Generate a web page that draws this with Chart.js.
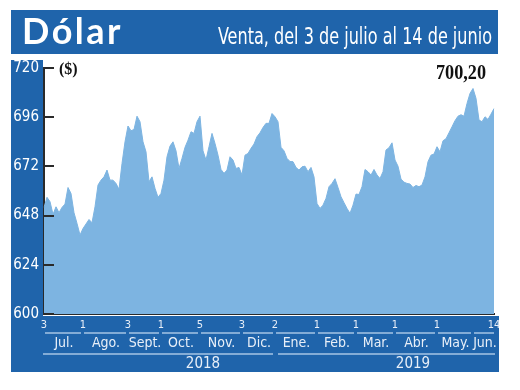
<!DOCTYPE html>
<html>
<head>
<meta charset="utf-8">
<script src="https://cdn.jsdelivr.net/npm/chart.js@4.4.1/dist/chart.umd.min.js"></script>
<style>
html, body { margin:0; padding:0; background:#fff; }
canvas { display:block; }
</style>
</head>
<body>
<canvas id="dolar-chart" width="520" height="390"></canvas>
<script>
/* ── DATA ───────────────────────────────────────────────── */

var DOLAR_VALUES = [
    652.0, 656.9, 654.8, 648.6, 652.3, 649.4, 652.0, 653.6, 661.7, 658.8, 649.4, 644.2, 638.5,
    641.7, 643.9, 646.1, 644.5, 652.3, 662.9, 665.3, 666.9, 670.2, 665.3, 665.3, 663.7,
    660.8, 673.4, 684.0, 691.7, 689.4, 690.0, 696.5, 693.8, 684.0, 679.1, 664.5, 666.9, 661.3,
    656.9, 658.8, 665.3, 676.7, 681.9, 684.0, 679.6, 671.0, 675.9, 681.3, 684.8, 688.9,
    688.1, 693.8, 696.5, 679.6, 675.1, 681.6, 688.1, 683.2, 677.5, 670.5, 668.6, 670.2, 676.7,
    675.1, 671.0, 671.5, 667.8, 677.5, 678.3, 680.8, 682.9, 686.5, 688.4, 691.0, 693.0,
    693.0, 697.8, 696.2, 693.8, 681.3, 679.6, 675.9, 674.4, 674.3, 671.5, 670.2, 671.8, 672.1,
    669.4, 671.5, 666.9, 653.9, 651.5, 653.1, 656.4, 662.1, 663.7, 666.0, 661.7, 657.2,
    654.3, 651.5, 649.1, 653.1, 658.5, 658.3, 662.1, 670.5, 669.4, 667.8, 670.5, 667.8, 666.1,
    669.4, 680.0, 681.1, 683.5, 675.1, 672.1, 665.8, 664.3, 663.7, 663.4, 661.7, 662.7,
    662.1, 662.9, 666.9, 674.3, 677.5, 678.0, 681.6, 679.1, 684.5, 685.5, 688.4, 691.3, 694.3,
    696.5, 697.2, 696.5, 702.7, 707.6, 710.0, 705.2, 694.6, 693.8, 696.2, 694.9, 697.5, 700.2
];
var DOLAR_LABELS = DOLAR_VALUES.map(function(v, i) { return i; });

var DAY_TICK_INDEX = [0, 13, 28, 39, 52, 66, 77, 91, 104, 117, 131, 150];
var DAY_TICK_TEXT  = ['3', '1', '3', '1', '5', '3', '2', '1', '1', '1', '1', '14'];

var MONTH_NAMES = ['Jul.', 'Ago.', 'Sept.', 'Oct.', 'Nov.', 'Dic.', 'Ene.', 'Feb.', 'Mar.', 'Abr.', 'May.', 'Jun.'];
var MONTH_START = [0, 13, 28, 39, 52, 66, 77, 91, 104, 117, 131, 143, 150];

var YEAR_NAMES = ['2018', '2019'];
var YEAR_START = [0, 77, 150];

var Y_MIN = 600, Y_MAX = 720, Y_STEP = 24;
var LAST_VALUE_TEXT = '700,20';

/* ── STYLE ──────────────────────────────────────────────── */

var BLUE      = '#1f64ab';
var FILL      = '#7db4e1';
var LIGHT     = '#e8eff8';
var RULE      = '#a6c4e4';
var AXIS      = '#2a2a2a';
var NARROW    = '"Liberation Sans Narrow", "DejaVu Sans Condensed", "Roboto", sans-serif';

/* ── DECORATION PLUGIN ──────────────────────────────────── */

var framePlugin = {
    id: 'frame',
    beforeDraw: function(chart) {
        var c = chart.ctx, a = chart.chartArea;
        c.save();
        c.fillStyle = '#fff';
        c.fillRect(0, 0, chart.width, chart.height);

        // header band
        c.fillStyle = BLUE;
        c.fillRect(11, 10, 487, 44);
        // left strip + bottom band
        c.fillRect(11, 60, a.left - 12, 312);
        c.fillRect(11, a.bottom + 2, 488, 372 - a.bottom - 2);

        c.fillStyle = '#fff';
        c.textBaseline = 'alphabetic';
        c.font = 'bold 36px Lato, "Open Sans", sans-serif';
        if ('letterSpacing' in c) c.letterSpacing = '2.5px';
        c.textAlign = 'left';
        c.fillText('Dólar', 22, 44);
        if ('letterSpacing' in c) c.letterSpacing = '0px';

        c.font = '23px ' + NARROW;
        c.textAlign = 'right';
        c.fillText('Venta, del 3 de julio al 14 de junio', 492, 44, 274);
        c.restore();
    },
    afterDraw: function(chart) {
        var c = chart.ctx, a = chart.chartArea;
        var xs = chart.scales.x, ys = chart.scales.y;
        c.save();

        // y tick marks pointing into the plot
        c.strokeStyle = AXIS;
        c.lineWidth = 2;
        ys.ticks.forEach(function(t) {
            var y = Math.round(ys.getPixelForValue(t.value));
            c.beginPath();
            c.moveTo(a.left, y);
            c.lineTo(a.left + 10, y);
            c.stroke();
        });

        // month segments + names
        c.strokeStyle = RULE;
        c.lineWidth = 1.5;
        c.fillStyle = LIGHT;
        c.textAlign = 'center';
        c.textBaseline = 'middle';
        c.font = '14px ' + NARROW;
        for (var i = 0; i < MONTH_NAMES.length; i++) {
            var x0 = xs.getPixelForValue(MONTH_START[i]) + 1;
            var x1 = xs.getPixelForValue(MONTH_START[i + 1]) - 2;
            if (i === MONTH_NAMES.length - 1) x1 += 2;
            c.beginPath();
            c.moveTo(x0, 333);
            c.lineTo(x1, 333);
            c.stroke();
            c.fillText(MONTH_NAMES[i], (x0 + x1) / 2 + 1, 343);
        }

        // year rules + names
        var yearCenters = [xs.getPixelForValue(52) + 3, xs.getPixelForValue(123)];
        c.font = '15px ' + NARROW;
        for (var j = 0; j < YEAR_NAMES.length; j++) {
            var ya = xs.getPixelForValue(YEAR_START[j]) + (j ? 3 : -1);
            var yb = xs.getPixelForValue(YEAR_START[j + 1]) - (j ? -1 : 2);
            c.beginPath();
            c.moveTo(ya, 354);
            c.lineTo(yb, 354);
            c.stroke();
            c.fillText(YEAR_NAMES[j], yearCenters[j], 364);
        }

        // unit + last value
        c.fillStyle = '#111';
        c.textAlign = 'left';
        c.font = 'bold 16px "Liberation Serif", "DejaVu Serif", serif';
        c.fillText('($)', a.left + 15, 70);
        c.textAlign = 'right';
        c.font = 'bold 21px "Liberation Serif", "DejaVu Serif", serif';
        c.fillText(LAST_VALUE_TEXT, a.right - 8, 74, 50);

        c.restore();
    }
};

/* ── CHART ──────────────────────────────────────────────── */

new Chart(document.getElementById('dolar-chart'), {
    type: 'line',
    data: {
        labels: DOLAR_LABELS,
        datasets: [{
            data: DOLAR_VALUES,
            borderColor: FILL,
            backgroundColor: FILL,
            borderWidth: 1,
            pointRadius: 0,
            tension: 0,
            fill: 'start'
        }]
    },
    options: {
        responsive: false,
        animation: false,
        layout: { padding: { top: 68, left: 11, right: 26, bottom: 0 } },
        plugins: { legend: { display: false }, tooltip: { enabled: false } },
        scales: {
            x: {
                type: 'category',
                grid: { drawOnChartArea: false, drawTicks: false },
                border: { display: true, color: AXIS, width: 2 },
                ticks: {
                    autoSkip: false, maxRotation: 0, minRotation: 0, padding: 5,
                    color: LIGHT, font: { family: NARROW, size: 11 },
                    callback: function(v, i) {
                        var k = DAY_TICK_INDEX.indexOf(i);
                        return k >= 0 ? DAY_TICK_TEXT[k] : '';
                    }
                },
                afterFit: function(s) { s.height = 76; }
            },
            y: {
                min: Y_MIN, max: Y_MAX,
                grid: { drawOnChartArea: false, drawTicks: false },
                border: { display: true, color: AXIS, width: 2 },
                ticks: {
                    stepSize: Y_STEP, padding: 5,
                    color: '#fff', font: { family: NARROW, size: 15 }
                },
                afterFit: function(s) { s.width = 33; }
            }
        }
    },
    plugins: [framePlugin]
});
</script>
</body>
</html>
